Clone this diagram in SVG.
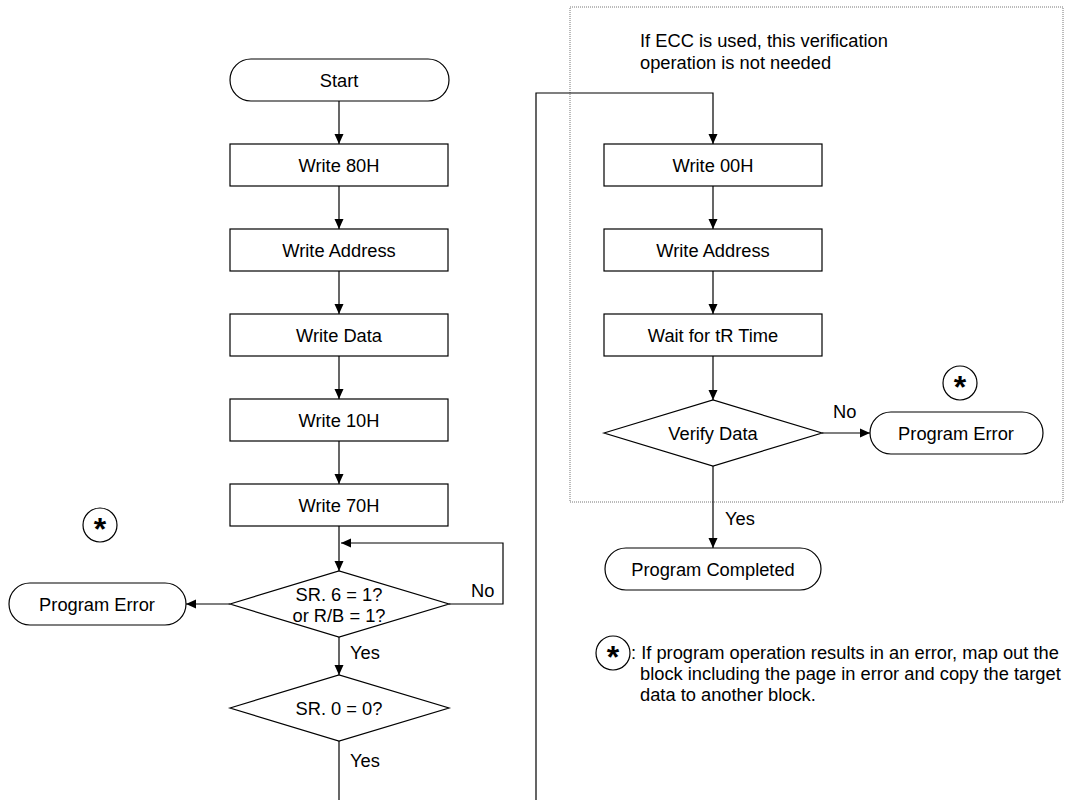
<svg xmlns="http://www.w3.org/2000/svg" width="1075" height="800" viewBox="0 0 1075 800">
<style>
.t{font-family:"Liberation Sans",Arial,sans-serif;font-size:18.3px;fill:#000}
.c{text-anchor:middle;dominant-baseline:central}
.s{fill:#fff;stroke:#000;stroke-width:1.2}
.ln{fill:none;stroke:#000;stroke-width:1.2}
.ar{fill:none;stroke:#000;stroke-width:1.2;marker-end:url(#ah)}
.st{font-family:"Liberation Sans",Arial,sans-serif;font-weight:bold;font-size:32px;text-anchor:middle}
.dot{fill:none;stroke:#777;stroke-width:1;stroke-dasharray:1 1}
</style>
<defs>
<marker id="ah" viewBox="0 0 10 10" refX="10" refY="5" markerWidth="10" markerHeight="10" markerUnits="userSpaceOnUse" orient="auto">
<path d="M0,0.5 L10,5 L0,9.5 z" fill="#000"/>
</marker>
</defs>
<rect width="1075" height="800" fill="#fff"/>
<rect id="ecc-region" class="dot" x="570" y="7" width="493" height="495"/>
<text class="t" x="640" y="47">If ECC is used, this verification</text>
<text class="t" x="640" y="69">operation is not needed</text>

<g id="connectors">
<line class="ar" x1="339" y1="101" x2="339" y2="144"/>
<line class="ar" x1="339" y1="186" x2="339" y2="229"/>
<line class="ar" x1="339" y1="271" x2="339" y2="314"/>
<line class="ar" x1="339" y1="356" x2="339" y2="399"/>
<line class="ar" x1="339" y1="441" x2="339" y2="484"/>
<line class="ar" x1="339" y1="526" x2="339" y2="571"/>
<path class="ar" d="M449,604 H503 V543 H341"/>
<line class="ar" x1="230" y1="604" x2="186" y2="604"/>
<line class="ar" x1="339" y1="637" x2="339" y2="675"/>
<line class="ln" x1="339" y1="741" x2="339" y2="800"/>
<path class="ar" d="M536,800 V93 H713 V144"/>
<line class="ar" x1="713" y1="186" x2="713" y2="229"/>
<line class="ar" x1="713" y1="271" x2="713" y2="314"/>
<line class="ar" x1="713" y1="356" x2="713" y2="400"/>
<line class="ar" x1="822" y1="433" x2="870" y2="433"/>
<line class="ar" x1="713" y1="466" x2="713" y2="548"/>
<text class="t" x="471" y="597">No</text>
<text class="t" x="350" y="659">Yes</text>
<text class="t" x="350" y="767">Yes</text>
<text class="t" x="833" y="418">No</text>
<text class="t" x="725" y="525">Yes</text>
</g>

<g id="start"><rect class="s" x="230" y="59" width="219" height="42" rx="21"/><text class="t c" x="339" y="80">Start</text></g>
<g id="w80"><rect class="s" x="230" y="144" width="218" height="42"/><text class="t c" x="339" y="165">Write 80H</text></g>
<g id="waddr"><rect class="s" x="230" y="229" width="218" height="42"/><text class="t c" x="339" y="250">Write Address</text></g>
<g id="wdata"><rect class="s" x="230" y="314" width="218" height="42"/><text class="t c" x="339" y="335">Write Data</text></g>
<g id="w10"><rect class="s" x="230" y="399" width="218" height="42"/><text class="t c" x="339" y="420">Write 10H</text></g>
<g id="w70"><rect class="s" x="230" y="484" width="218" height="42"/><text class="t c" x="339" y="505">Write 70H</text></g>
<g id="sr6"><path class="s" d="M230,604 L339,571 L449,604 L339,637 Z"/><text class="t c" x="339" y="594">SR. 6 = 1?</text><text class="t c" x="339" y="615">or R/B = 1?</text></g>
<g id="perr1"><rect class="s" x="9" y="583" width="177" height="42" rx="21"/><text class="t c" x="97" y="604">Program Error</text></g>
<g id="star1"><circle class="s" cx="100" cy="525" r="17"/><text class="st" x="100" y="540">*</text></g>
<g id="sr0"><path class="s" d="M230,708 L339,675 L449,708 L339,741 Z"/><text class="t c" x="339" y="708">SR. 0 = 0?</text></g>

<g id="w00"><rect class="s" x="604" y="144" width="218" height="42"/><text class="t c" x="713" y="165">Write 00H</text></g>
<g id="waddr2"><rect class="s" x="604" y="229" width="218" height="42"/><text class="t c" x="713" y="250">Write Address</text></g>
<g id="wait"><rect class="s" x="604" y="314" width="218" height="42"/><text class="t c" x="713" y="335">Wait for tR Time</text></g>
<g id="verify"><path class="s" d="M604,433 L713,400 L822,433 L713,466 Z"/><text class="t c" x="713" y="433">Verify Data</text></g>
<g id="perr2"><rect class="s" x="870" y="412" width="173" height="42" rx="21"/><text class="t c" x="956" y="433">Program Error</text></g>
<g id="star2"><circle class="s" cx="960" cy="383" r="17"/><text class="st" x="960" y="398">*</text></g>
<g id="done"><rect class="s" x="605" y="548" width="216" height="42" rx="21"/><text class="t c" x="713" y="569">Program Completed</text></g>

<g id="note">
<circle class="s" cx="613" cy="653" r="17"/><text class="st" x="613" y="668">*</text>
<text class="t" x="631" y="659">: If program operation results in an error, map out the</text>
<text class="t" x="640" y="680">block including the page in error and copy the target</text>
<text class="t" x="640" y="701">data to another block.</text>
</g>
</svg>
